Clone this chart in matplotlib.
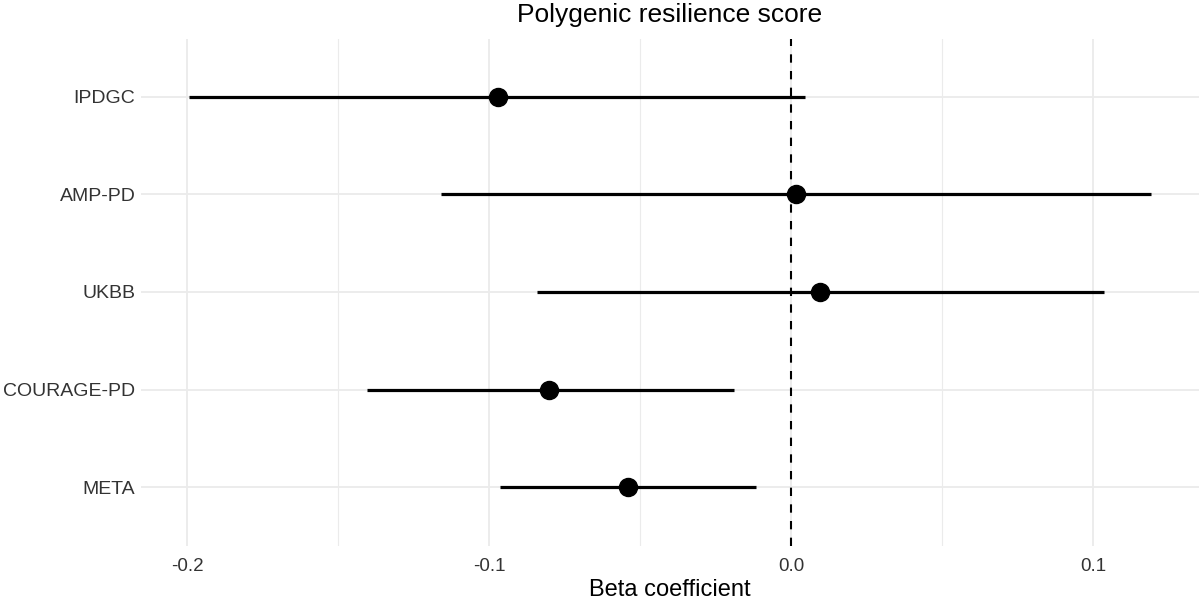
import numpy as np
import matplotlib as mplt
mplt.use("Agg")
import matplotlib.pyplot as plt
from matplotlib.ticker import MultipleLocator

plt.rcParams["font.family"] = ["Liberation Sans", "DejaVu Sans"]

# cohorts, top to bottom
cohorts = ["IPDGC", "AMP-PD", "UKBB", "COURAGE-PD", "META"]
beta = [-0.0970, 0.0017, 0.0096, -0.0800, -0.0538]
ci_low = [-0.1993, -0.1159, -0.0841, -0.1404, -0.0965]
ci_high = [0.0046, 0.1192, 0.1036, -0.0190, -0.0117]

W, H = 1200, 599
fig = plt.figure(figsize=(W / 100, H / 100), dpi=100)
left, right, top, bottom = 141, 1199, 38.5, 545.5
ax = fig.add_axes([left / W, (H - bottom) / H, (right - left) / W, (bottom - top) / H])

ypos = np.arange(len(cohorts))[::-1]

ax.hlines(ypos, ci_low, ci_high, color="black", lw=2.3, zorder=3)
ax.plot(beta, ypos, "o", color="black", markersize=13, zorder=4)
ax.axvline(0, color="black", lw=1.5, ls=(0, (4, 4)), zorder=2)

# ggplot style expansion
lo, hi = min(ci_low), max(ci_high)
pad = 0.05 * (hi - lo)
ax.set_xlim(lo - pad, hi + pad)
ax.set_ylim(-0.6, len(cohorts) - 1 + 0.6)

ax.xaxis.set_major_locator(MultipleLocator(0.1))
ax.xaxis.set_minor_locator(MultipleLocator(0.05))
ax.xaxis.set_major_formatter(plt.FuncFormatter(lambda v, p: f"{v:.1f}"))
ax.set_yticks(ypos)
ax.set_yticklabels(cohorts)

ax.grid(which="major", color="#EBEBEB", lw=1.3, zorder=0)
ax.grid(which="minor", axis="x", color="#EBEBEB", lw=0.8, zorder=0)
ax.set_axisbelow(True)
for s in ax.spines.values():
    s.set_visible(False)
ax.tick_params(which="both", length=0)
ax.tick_params(axis="x", labelsize=13.5, labelcolor="#333333", pad=9)
ax.tick_params(axis="y", labelsize=14, labelcolor="#333333", pad=4)

cx = (left + right) / 2 / W
fig.text(cx, 1 - 22 / H, "Polygenic resilience score", fontsize=19,
         ha="center", va="baseline")
fig.text(cx, 1 - 596 / H, "Beta coefficient", fontsize=17,
         ha="center", va="baseline")

fig.savefig("out.png", dpi=100)
